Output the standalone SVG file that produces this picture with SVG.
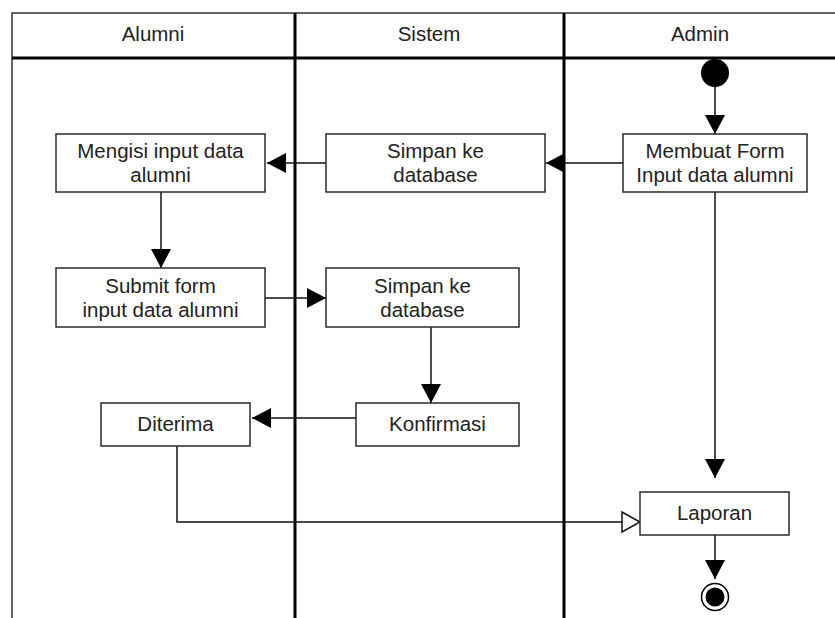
<svg xmlns="http://www.w3.org/2000/svg" width="835" height="618" viewBox="0 0 835 618">
  <style>
    .lane-title { font-family: "Liberation Sans", Arial, sans-serif; font-size: 20.5px; fill: #222; text-anchor: middle; }
    .label { font-family: "Liberation Sans", Arial, sans-serif; font-size: 20.5px; fill: #222; text-anchor: middle; }
    .action { fill: #fff; stroke: #2a2a2a; stroke-width: 1.5; }
    .flow { fill: none; stroke: #111; stroke-width: 1.5; }
    .divider { stroke: #000; stroke-width: 3; fill: none; }
  </style>
  <defs>
    <marker id="arrow" viewBox="0 0 19 20" refX="19" refY="10" markerWidth="19" markerHeight="20" markerUnits="userSpaceOnUse" orient="auto">
      <path d="M0,0 L19,10 L0,20 Z" fill="#000"/>
    </marker>
    <marker id="arrow-open" viewBox="0 0 20 22" refX="19" refY="11" markerWidth="20" markerHeight="22" markerUnits="userSpaceOnUse" orient="auto">
      <path d="M1,1 L19,11 L1,21 Z" fill="#fff" stroke="#111" stroke-width="1.5"/>
    </marker>
  </defs>

  <rect width="835" height="618" fill="#fff"/>

  <!-- swimlane frame -->
  <g id="lanes">
    <path d="M12,618 V13 H836" fill="none" stroke="#333" stroke-width="1.5"/>
    <line class="divider" x1="12" y1="58" x2="836" y2="58"/>
    <line class="divider" x1="295" y1="13" x2="295" y2="618"/>
    <line class="divider" x1="564" y1="13" x2="564" y2="618"/>
    <text class="lane-title" x="153" y="41">Alumni</text>
    <text class="lane-title" x="429" y="41">Sistem</text>
    <text class="lane-title" x="700" y="41">Admin</text>
  </g>

  <!-- control flow -->
  <g id="connectors">
    <line class="flow" x1="715" y1="80" x2="715" y2="134" marker-end="url(#arrow)"/>
    <line class="flow" x1="623" y1="163" x2="546" y2="163" marker-end="url(#arrow)"/>
    <line class="flow" x1="326" y1="163" x2="267" y2="163" marker-end="url(#arrow)"/>
    <line class="flow" x1="161" y1="192" x2="161" y2="268" marker-end="url(#arrow)"/>
    <line class="flow" x1="265" y1="298" x2="326" y2="298" marker-end="url(#arrow)"/>
    <line class="flow" x1="431" y1="327" x2="431" y2="403" marker-end="url(#arrow)"/>
    <line class="flow" x1="356" y1="418" x2="252" y2="418" marker-end="url(#arrow)"/>
    <polyline class="flow" points="177,446 177,522 640,522" marker-end="url(#arrow-open)"/>
    <line class="flow" x1="715" y1="192" x2="715" y2="478" marker-end="url(#arrow)"/>
    <line class="flow" x1="715" y1="535" x2="715" y2="579" marker-end="url(#arrow)"/>
  </g>

  <g id="start">
    <circle cx="715" cy="73" r="14" fill="#000"/>
  </g>

  <g id="membuat-form">
    <rect class="action" x="623" y="134" width="184" height="58"/>
    <text class="label" x="715" y="158">Membuat Form</text>
    <text class="label" x="715" y="182">Input data alumni</text>
  </g>

  <g id="simpan-database-1">
    <rect class="action" x="326" y="134" width="219" height="58"/>
    <text class="label" x="435.5" y="158">Simpan ke</text>
    <text class="label" x="435.5" y="182">database</text>
  </g>

  <g id="mengisi-input">
    <rect class="action" x="56" y="134" width="209" height="58"/>
    <text class="label" x="160.5" y="158">Mengisi input data</text>
    <text class="label" x="160.5" y="182">alumni</text>
  </g>

  <g id="submit-form">
    <rect class="action" x="56" y="268" width="209" height="59"/>
    <text class="label" x="160.5" y="293">Submit form</text>
    <text class="label" x="160.5" y="317">input data alumni</text>
  </g>

  <g id="simpan-database-2">
    <rect class="action" x="326" y="268" width="193" height="59"/>
    <text class="label" x="422.5" y="293">Simpan ke</text>
    <text class="label" x="422.5" y="317">database</text>
  </g>

  <g id="konfirmasi">
    <rect class="action" x="356" y="403" width="163" height="43"/>
    <text class="label" x="437.5" y="431">Konfirmasi</text>
  </g>

  <g id="diterima">
    <rect class="action" x="101" y="403" width="149" height="43"/>
    <text class="label" x="175.5" y="431">Diterima</text>
  </g>

  <g id="laporan">
    <rect class="action" x="640" y="492" width="149" height="43"/>
    <text class="label" x="714.5" y="520">Laporan</text>
  </g>

  <g id="end">
    <circle cx="715" cy="597" r="13.5" fill="#fff" stroke="#000" stroke-width="1.5"/>
    <circle cx="715" cy="597" r="9.5" fill="#000"/>
  </g>
</svg>
